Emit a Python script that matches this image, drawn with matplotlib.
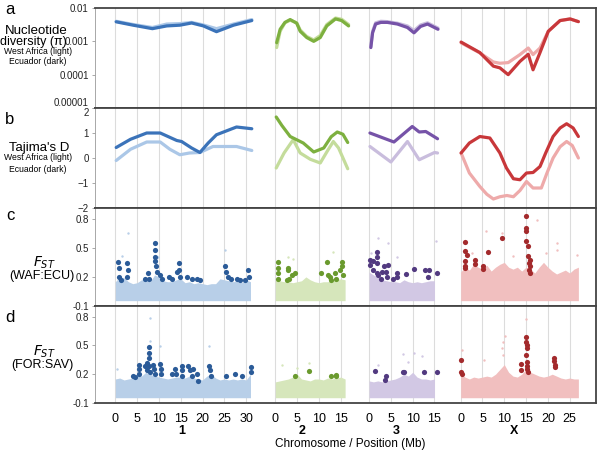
import numpy as np
import matplotlib.pyplot as plt

plt.rcParams['font.family'] = ['Liberation Sans', 'DejaVu Sans']

# chromosomes
chroms = ['1', '2', '3', 'X']
chrom_len = [31.7, 16.5, 16.0, 27.3]
chrom_ticks = [[0, 5, 10, 15, 20, 25, 30], [0, 5, 10, 15], [0, 5, 10, 15], [0, 5, 10, 15, 20, 25]]
dark_line = ['#3b73b9', '#7db03f', '#7653a8', '#c8373a']
light_line = ['#abc7e7', '#c4dc9b', '#c9bddd', '#eeaaaa']
dark_dot = ['#2b5b98', '#6a9a2e', '#523a80', '#a32a2c']
band_col = ['#b8cfe8', '#d6e6bb', '#d2c8e4', '#f1bfbf']

# a: nucleotide diversity (Mb, pi)
pi_waf_1 = [(0.2, 4.0e-3), (4.1, 3.2e-3), (8.5, 2.6e-3), (11.8, 3.3e-3), (14.8, 3.4e-3), (17.5, 3.7e-3),
            (20.2, 3.1e-3), (23.2, 2.4e-3), (27.1, 3.3e-3), (31.3, 4.5e-3)]
pi_ecu_1 = [(0.2, 3.85e-3), (4.1, 3.05e-3), (8.5, 2.4e-3), (11.8, 2.9e-3), (14.8, 3.05e-3), (17.5, 3.55e-3),
            (20.2, 2.9e-3), (23.2, 1.95e-3), (27.1, 3.05e-3), (31.3, 4.2e-3)]
pi_waf_2 = [(0.3, 6.5e-4), (1.1, 2.0e-3), (2.2, 3.6e-3), (3.4, 4.3e-3), (4.9, 3.6e-3), (5.7, 2.2e-3),
            (7.2, 1.4e-3), (8.8, 1.1e-3), (10.3, 1.5e-3), (11.8, 3.2e-3), (13.8, 5.0e-3), (15.2, 4.6e-3),
            (16.8, 3.2e-3)]
pi_ecu_2 = [(0.3, 9.1e-4), (1.1, 2.3e-3), (2.2, 3.7e-3), (3.4, 4.5e-3), (4.9, 3.5e-3), (5.7, 2.0e-3),
            (7.2, 1.3e-3), (8.8, 1.0e-3), (10.3, 1.3e-3), (11.8, 2.9e-3), (13.8, 4.7e-3), (15.2, 4.2e-3),
            (16.8, 2.9e-3)]
pi_waf_3 = [(0.4, 7.0e-4), (0.8, 2.0e-3), (1.5, 3.6e-3), (2.7, 4.0e-3), (4.2, 3.9e-3), (6.5, 3.5e-3),
            (8.8, 2.9e-3), (10.3, 2.1e-3), (11.8, 3.1e-3), (13.4, 3.6e-3), (15.8, 2.5e-3)]
pi_ecu_3 = [(0.4, 6.5e-4), (0.8, 1.8e-3), (1.5, 3.3e-3), (2.7, 3.7e-3), (4.2, 3.7e-3), (6.5, 3.3e-3),
            (8.8, 2.6e-3), (10.3, 1.8e-3), (11.8, 2.8e-3), (13.4, 3.3e-3), (15.8, 2.3e-3)]
pi_waf_x = [(0.1, 9.0e-4), (4.4, 4.5e-4), (7.5, 2.4e-4), (9.0, 2.2e-4), (10.9, 2.3e-4), (13.6, 4.0e-4),
            (15.5, 6.3e-4), (16.6, 4.0e-4), (18.2, 6.3e-4), (20.1, 2.0e-3), (22.8, 4.2e-3), (25.1, 4.7e-3), (27.0, 3.9e-3)]
pi_ecu_x = [(0.1, 9.5e-4), (4.4, 4.6e-4), (7.5, 1.8e-4), (9.0, 1.6e-4), (10.9, 1.0e-4), (13.6, 2.5e-4),
            (15.5, 4.1e-4), (16.6, 1.4e-4), (18.2, 4.6e-4), (20.1, 2.0e-3), (22.8, 4.2e-3), (25.1, 4.7e-3), (27.0, 3.9e-3)]

# b: Tajima's D (Mb, D)
taj_waf_1 = [(0.2, -0.1), (3.5, 0.35), (7.2, 0.64), (10.3, 0.64), (12.5, 0.35), (14.8, 0.13), (17.0, 0.2),
             (19.4, 0.22), (22.4, 0.46), (27.8, 0.46), (31.3, 0.3)]
taj_ecu_1 = [(0.2, 0.42), (3.5, 0.75), (7.2, 1.0), (10.3, 1.0), (14.1, 0.7), (15.2, 0.66), (17.5, 0.4),
             (19.4, 0.22), (21.3, 0.6), (23.2, 0.93), (27.8, 1.24), (31.3, 1.17)]
taj_waf_2 = [(0.2, -0.4), (2.0, 0.2), (4.1, 0.73), (5.7, 0.2), (8.0, -0.05), (10.3, -0.2), (12.0, 0.3),
             (13.3, 0.66), (14.5, 0.4), (16.6, -0.43)]
taj_ecu_2 = [(0.2, 1.64), (1.5, 1.3), (3.4, 0.86), (6.4, 0.6), (8.8, 0.24), (11.1, 0.4), (12.8, 0.85),
             (14.2, 1.04), (15.5, 0.95), (16.6, 0.62)]
taj_waf_3 = [(0.2, 0.46), (5.0, -0.16), (8.8, 0.66), (11.5, -0.07), (15.0, 0.22), (15.7, 0.2)]
taj_ecu_3 = [(0.2, 1.0), (5.7, 0.64), (9.9, 1.26), (11.5, 1.04), (13.0, 1.06), (15.7, 0.77)]
taj_waf_x = [(0.1, 0.2), (2.0, -0.6), (4.4, -1.14), (6.0, -1.45), (7.5, -1.64), (9.0, -1.55), (10.6, -1.5),
             (12.1, -1.55), (13.6, -1.3), (15.1, -0.94), (16.6, -1.2), (18.5, -1.2), (19.8, -0.6), (21.2, 0.0),
             (22.8, 0.45), (24.3, 0.66), (25.6, 0.5), (27.0, 0.0)]
taj_ecu_x = [(0.1, 0.2), (2.0, 0.6), (4.4, 0.86), (6.7, 0.8), (9.0, 0.2), (10.5, -0.4), (12.1, -0.83),
             (13.6, -0.87), (15.1, -0.6), (16.6, -0.58), (18.2, -0.34), (19.5, 0.2), (21.2, 0.86), (22.8, 1.2),
             (24.3, 1.37), (25.8, 1.2), (27.0, 0.86)]

# c: FST WAF:ECU  - upper edge of the background cloud, one value per Mb
fst_c_band_1 = [0.15, 0.2, 0.19, 0.15, 0.13, 0.14, 0.17, 0.17, 0.15, 0.22, 0.2, 0.16, 0.15, 0.15, 0.17, 0.18,
                0.14, 0.15, 0.13, 0.14, 0.13, 0.12, 0.13, 0.13, 0.18, 0.17, 0.16, 0.15, 0.16, 0.14, 0.17, 0.15]
fst_c_band_2 = [0.17, 0.16, 0.15, 0.15, 0.14, 0.15, 0.16, 0.2, 0.17, 0.15, 0.14, 0.15, 0.15, 0.16, 0.17, 0.18, 0.17]
fst_c_band_3 = [0.25, 0.22, 0.2, 0.17, 0.16, 0.15, 0.15, 0.14, 0.17, 0.15, 0.14, 0.15, 0.14, 0.15, 0.16, 0.16]
fst_c_band_x = [0.25, 0.3, 0.27, 0.33, 0.3, 0.28, 0.32, 0.26, 0.3, 0.33, 0.35, 0.3, 0.28, 0.3, 0.26, 0.3,
                0.28, 0.24, 0.3, 0.35, 0.3, 0.26, 0.23, 0.25, 0.27, 0.24, 0.28, 0.3]
fst_c_hits_1 = [(0.7, 0.35), (0.8, 0.29), (0.9, 0.2), (1.3, 0.17), (2.6, 0.34), (2.8, 0.27), (2.6, 0.2),
                (6.8, 0.18), (7.6, 0.24), (7.7, 0.18), (9.1, 0.55), (9.1, 0.48), (9.2, 0.41), (9.2, 0.36),
                (9.3, 0.31), (9.5, 0.25), (10.3, 0.22), (10.6, 0.18), (12.2, 0.2), (12.9, 0.18), (14.1, 0.25),
                (14.6, 0.34), (14.6, 0.27), (14.8, 0.2), (16.4, 0.2), (17.5, 0.18), (18.7, 0.18), (19.4, 0.17),
                (25.2, 0.31), (25.3, 0.25), (25.9, 0.2), (26.5, 0.18), (27.8, 0.18), (28.6, 0.17), (29.7, 0.17),
                (30.5, 0.27), (30.6, 0.2)]
fst_c_hits_2 = [(0.7, 0.35), (0.7, 0.29), (0.7, 0.24), (0.7, 0.18), (2.8, 0.29), (3.0, 0.27), (3.8, 0.22),
                (3.2, 0.18), (2.7, 0.17), (4.5, 0.24), (10.5, 0.24), (11.8, 0.35), (12.0, 0.22), (12.6, 0.2),
                (13.7, 0.24), (13.9, 0.18), (14.8, 0.27), (15.2, 0.35), (15.3, 0.31), (15.5, 0.22), (12.8, 0.17)]
fst_c_hits_3 = [(0.2, 0.37), (0.2, 0.32), (0.8, 0.27), (0.9, 0.36), (1.8, 0.46), (1.9, 0.41), (1.9, 0.34),
                (1.7, 0.24), (2.0, 0.22), (2.8, 0.18), (2.9, 0.25), (3.4, 0.31), (3.8, 0.25), (4.4, 0.32),
                (4.1, 0.2), (5.4, 0.18), (6.3, 0.24), (6.4, 0.2), (8.4, 0.23), (10.2, 0.28), (12.9, 0.27),
                (13.7, 0.27), (13.4, 0.2), (15.6, 0.24)]
fst_c_hits_x = [(1.0, 0.56), (1.0, 0.47), (1.4, 0.43), (1.0, 0.36), (1.1, 0.31), (1.0, 0.29), (3.4, 0.37),
                (3.3, 0.33), (5.2, 0.31), (5.2, 0.28), (6.2, 0.46), (9.4, 0.6), (14.9, 0.83), (14.9, 0.7),
                (14.9, 0.67), (14.9, 0.57), (15.4, 0.52), (15.5, 0.42), (15.9, 0.37), (15.7, 0.34),
                (15.9, 0.31), (15.6, 0.27), (15.8, 0.24)]
fst_c_out_1 = [(2.8, 0.65), (25.2, 0.48), (1.5, 0.42), (9.8, 0.4)]
fst_c_out_2 = [(2.8, 0.41), (13.3, 0.46), (4.0, 0.38)]
fst_c_out_3 = [(2.0, 0.6), (4.4, 0.55), (15.4, 0.57), (0.5, 0.45), (6.5, 0.4)]
fst_c_out_x = [(5.9, 0.67), (9.4, 0.65), (17.4, 0.79), (22.1, 0.55), (22.1, 0.48), (26.7, 0.43), (2.5, 0.45),
               (12.0, 0.42), (19.5, 0.45)]

# d: FST FOR:SAV
fst_d_band_1 = [0.15, 0.16, 0.14, 0.15, 0.16, 0.2, 0.18, 0.22, 0.2, 0.18, 0.17, 0.16, 0.15, 0.16, 0.17, 0.17,
                0.16, 0.18, 0.16, 0.15, 0.14, 0.18, 0.2, 0.16, 0.14, 0.15, 0.14, 0.15, 0.14, 0.15, 0.14, 0.2]
fst_d_band_2 = [0.12, 0.13, 0.14, 0.15, 0.17, 0.2, 0.15, 0.14, 0.13, 0.15, 0.15, 0.14, 0.16, 0.15, 0.16, 0.17, 0.15]
fst_d_band_3 = [0.13, 0.12, 0.13, 0.12, 0.13, 0.14, 0.15, 0.17, 0.2, 0.18, 0.22, 0.17, 0.15, 0.15, 0.14, 0.15]
fst_d_band_x = [0.2, 0.17, 0.15, 0.17, 0.16, 0.17, 0.18, 0.17, 0.2, 0.25, 0.3, 0.22, 0.18, 0.17, 0.2, 0.25,
                0.22, 0.2, 0.18, 0.17, 0.18, 0.2, 0.18, 0.16, 0.15, 0.16, 0.15, 0.15]
fst_d_hits_1 = [(4.1, 0.18), (4.4, 0.17), (5.5, 0.3), (5.5, 0.25), (5.5, 0.2), (6.8, 0.29), (7.2, 0.32),
                (7.3, 0.24), (7.7, 0.42), (7.8, 0.48), (7.8, 0.37), (7.8, 0.29), (8.0, 0.22), (8.7, 0.3),
                (8.9, 0.25), (9.1, 0.2), (10.3, 0.31), (10.4, 0.25), (10.5, 0.2), (12.9, 0.2), (13.7, 0.25),
                (14.0, 0.2), (15.2, 0.29), (15.3, 0.24), (15.2, 0.18), (16.7, 0.29), (17.1, 0.24), (17.6, 0.18),
                (17.9, 0.25), (19.0, 0.13), (18.8, 0.2), (21.5, 0.29), (21.7, 0.24), (21.9, 0.18), (25.3, 0.18),
                (27.5, 0.2), (29.1, 0.18), (31.1, 0.27), (31.2, 0.22)]
fst_d_hits_2 = [(4.5, 0.18), (7.8, 0.23), (12.7, 0.18), (13.8, 0.19), (14.0, 0.18)]
fst_d_hits_3 = [(1.4, 0.23), (3.8, 0.18), (3.6, 0.14), (7.7, 0.22), (7.9, 0.22), (12.5, 0.22), (15.5, 0.22)]
fst_d_hits_x = [(0.0, 0.35), (0.0, 0.22), (0.2, 0.2), (13.8, 0.31), (13.8, 0.24), (15.1, 0.59), (15.1, 0.53),
                (15.2, 0.5), (15.3, 0.47), (15.1, 0.4), (15.2, 0.33), (15.2, 0.29), (15.3, 0.25), (15.4, 0.22),
                (21.5, 0.37), (21.5, 0.34), (21.6, 0.3), (21.6, 0.28)]
fst_d_out_1 = [(8.0, 0.78), (10.3, 0.49), (21.5, 0.49), (0.3, 0.25), (8.0, 0.55)]
fst_d_out_2 = [(1.5, 0.3), (7.8, 0.32), (5.0, 0.26)]
fst_d_out_3 = [(7.8, 0.41), (10.3, 0.42), (12.2, 0.39), (2.0, 0.3), (9.0, 0.33)]
fst_d_out_x = [(15.1, 0.77), (9.7, 0.54), (9.5, 0.47), (5.3, 0.35), (0.2, 0.45), (10.2, 0.6), (9.8, 0.4)]

# x positions of each chromosome on the shared axis
gap = 5.0
offsets = [4.66]
for L in chrom_len[:-1]:
    offsets.append(offsets[-1] + L + gap)
xmax = 114.9

pi_waf = [pi_waf_1, pi_waf_2, pi_waf_3, pi_waf_x]
pi_ecu = [pi_ecu_1, pi_ecu_2, pi_ecu_3, pi_ecu_x]
taj_waf = [taj_waf_1, taj_waf_2, taj_waf_3, taj_waf_x]
taj_ecu = [taj_ecu_1, taj_ecu_2, taj_ecu_3, taj_ecu_x]
fst_rows = [
    ([fst_c_band_1, fst_c_band_2, fst_c_band_3, fst_c_band_x],
     [fst_c_hits_1, fst_c_hits_2, fst_c_hits_3, fst_c_hits_x],
     [fst_c_out_1, fst_c_out_2, fst_c_out_3, fst_c_out_x]),
    ([fst_d_band_1, fst_d_band_2, fst_d_band_3, fst_d_band_x],
     [fst_d_hits_1, fst_d_hits_2, fst_d_hits_3, fst_d_hits_x],
     [fst_d_out_1, fst_d_out_2, fst_d_out_3, fst_d_out_x]),
]
band_low = -0.045

W, H = 602, 453
fig = plt.figure(figsize=(W / 100, H / 100), dpi=100)


def px_axes(top, bottom):
    return fig.add_axes([95 / W, 1 - bottom / H, 501 / W, (bottom - top) / H])


ax_a = px_axes(8, 108)
ax_b = px_axes(108, 208)
ax_c = px_axes(208, 306)
ax_d = px_axes(306, 403)
axes = [ax_a, ax_b, ax_c, ax_d]

for ax in axes:
    ax.set_xlim(0, xmax)
    for off, ticks in zip(offsets, chrom_ticks):
        for t in ticks:
            ax.axvline(off + t, color='#dcdcdc', lw=0.8, zorder=0)
    for s in ['top', 'right', 'bottom']:
        ax.spines[s].set_color('#444444')
        ax.spines[s].set_linewidth(1.3)
    ax.spines['left'].set_color('#9a9a9a')
    ax.spines['left'].set_linewidth(0.6)
    ax.tick_params(axis='y', labelsize=7, length=2.5, width=0.6, color='#9a9a9a', pad=2, labelcolor='#222222')
    ax.tick_params(axis='x', length=0)
    ax.set_xticks([])

# a
for i in range(4):
    for data, col in [(pi_waf[i], light_line[i]), (pi_ecu[i], dark_line[i])]:
        p = np.array(data)
        ax_a.plot(offsets[i] + p[:, 0], p[:, 1], color=col, lw=2.3, solid_capstyle='round',
                  solid_joinstyle='round', zorder=2)
ax_a.set_yscale('log')
ax_a.set_ylim(1e-5, 1e-2)
ax_a.set_yticks([1e-2, 1e-3, 1e-4, 1e-5])
ax_a.set_yticklabels(['0.01', '0.001', '0.0001', '0.00001'])
ax_a.minorticks_off()
ax_a.get_yticklabels()[-1].set_va('bottom')

# b
for i in range(4):
    for data, col in [(taj_waf[i], light_line[i]), (taj_ecu[i], dark_line[i])]:
        p = np.array(data)
        ax_b.plot(offsets[i] + p[:, 0], p[:, 1], color=col, lw=2.3, solid_capstyle='round',
                  solid_joinstyle='round', zorder=2)
ax_b.set_ylim(-2, 2)
ax_b.set_yticks([-2, -1, 0, 1, 2])
ax_b.get_yticklabels()[-1].set_va('top')

# c, d
for ax, (bands, hits, outs) in zip([ax_c, ax_d], fst_rows):
    for i in range(4):
        top = np.array(bands[i])
        xs = offsets[i] + np.arange(len(top))
        ax.fill_between(xs, band_low, top, color=band_col[i], lw=0, zorder=1)
        o = np.array(outs[i])
        ax.scatter(offsets[i] + o[:, 0], o[:, 1], s=3, color=band_col[i], lw=0, zorder=1)
        h = np.array(hits[i])
        ax.scatter(offsets[i] + h[:, 0], h[:, 1], s=14, color=dark_dot[i], lw=0, zorder=3)
    ax.set_ylim(-0.1, 0.91)
    ax.set_yticks([-0.1, 0.2, 0.5, 0.8])
    ax.set_yticklabels(['-0.1', '0.2', '0.5', '0.8'])

# bottom x ticks
xt, xl = [], []
for off, ticks in zip(offsets, chrom_ticks):
    for t in ticks:
        xt.append(off + t)
        xl.append(str(t))
ax_d.set_xticks(xt)
ax_d.set_xticklabels(xl, fontsize=9)
ax_d.tick_params(axis='x', length=0, pad=7)
chrom_label_x = [19.9, 47.5, 69.2, 96.1]
for name, x in zip(chroms, chrom_label_x):
    ax_d.text(x, -0.33, name, ha='center', va='top', fontsize=9, fontweight='bold')
ax_d.text(0.51, -0.36, 'Chromosome / Position (Mb)', transform=ax_d.transAxes, ha='center', va='top', fontsize=8.5)


def ftext(x, y, s, **kw):
    fig.text(x / W, 1 - y / H, s, ha='center', va='center', **kw)


ftext(10, 10, 'a', fontsize=12)
ftext(10, 119, 'b', fontsize=12)
ftext(10, 216, 'c', fontsize=12)
ftext(10, 318, 'd', fontsize=12)
ftext(36, 31, 'Nucleotide', fontsize=9.5)
ftext(33, 42, 'diversity (π)', fontsize=9)
ftext(38, 52, 'West Africa (light)', fontsize=6.2)
ftext(38, 61, 'Ecuador (dark)', fontsize=6.2)
ftext(39, 148, "Tajima's D", fontsize=9.5)
ftext(38, 158, 'West Africa (light)', fontsize=6.2)
ftext(38, 170, 'Ecuador (dark)', fontsize=6.2)
ftext(44, 263, '$F_{ST}$', fontsize=10)
ftext(42, 276, '(WAF:ECU)', fontsize=9)
ftext(44, 352, '$F_{ST}$', fontsize=10)
ftext(42, 365, '(FOR:SAV)', fontsize=9)

fig.savefig('out.png', dpi=100)
